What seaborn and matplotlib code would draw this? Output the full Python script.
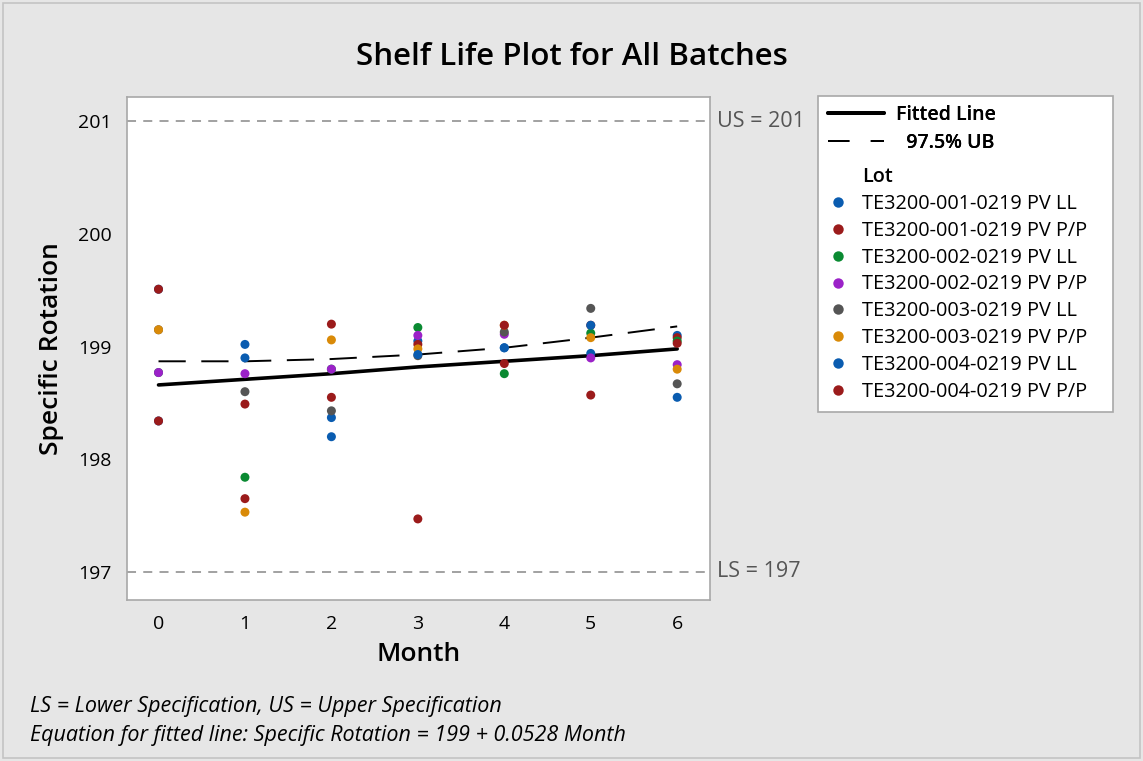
import numpy as np
import pandas as pd
import matplotlib
matplotlib.use("Agg")
import matplotlib.pyplot as plt
import seaborn as sns
from matplotlib.lines import Line2D
from matplotlib.patches import Rectangle

# ---- data ----
months = [0, 1, 2, 3, 4, 5, 6]
lots = ['TE3200-001-0219 PV LL', 'TE3200-001-0219 PV P/P',
        'TE3200-002-0219 PV LL', 'TE3200-002-0219 PV P/P',
        'TE3200-003-0219 PV LL', 'TE3200-003-0219 PV P/P',
        'TE3200-004-0219 PV LL', 'TE3200-004-0219 PV P/P']
lot_001_ll = [199.51, 199.02, 198.37, 199.05, 198.99, 198.94, 199.10]
lot_001_pp = [199.51, 198.49, 198.55, 199.02, 198.85, 199.19, 199.08]
lot_002_ll = [198.77, 197.84, 198.80, 199.17, 198.76, 199.12, 199.05]
lot_002_pp = [198.77, 198.76, 198.80, 199.10, 199.11, 198.90, 198.84]
lot_003_ll = [199.15, 198.60, 198.43, 198.92, 199.13, 199.34, 198.67]
lot_003_pp = [199.15, 197.53, 199.06, 198.98, 199.19, 199.08, 198.80]
lot_004_ll = [198.34, 198.90, 198.20, 198.93, 198.99, 199.19, 198.55]
lot_004_pp = [198.34, 197.65, 199.20, 197.47, 199.19, 198.57, 199.03]
fitted_line = [198.66, 198.71, 198.76, 198.82, 198.87, 198.92, 198.98]
upper_bound = [198.87, 198.87, 198.89, 198.93, 198.99, 199.08, 199.18]
lower_spec = 197
upper_spec = 201
lot_colors = ['#0a5cb0', '#9b1b1b', '#0a8a32', '#9b22c8',
              '#555555', '#d98a08', '#0a5cb0', '#9b1b1b']

valores = [lot_001_ll, lot_001_pp, lot_002_ll, lot_002_pp,
           lot_003_ll, lot_003_pp, lot_004_ll, lot_004_pp]
df = pd.DataFrame({
    'Month': months * len(lots),
    'Specific Rotation': sum(valores, []),
    'Lot': [lot for lot in lots for _ in months],
})
df_fit = pd.DataFrame({'Month': months, 'Fitted': fitted_line, 'UB': upper_bound})

sns.set_style('white')
plt.rcParams['font.family'] = ['Open Sans', 'DejaVu Sans']
plt.rcParams['text.color'] = 'black'
plt.rcParams['axes.labelcolor'] = 'black'

fig = plt.figure(figsize=(11.43, 7.61), dpi=100, facecolor='#e6e6e6')
fig.patches.append(Rectangle((0.003, 0.004), 0.994, 0.992, transform=fig.transFigure,
                             fill=False, edgecolor='#c4c4c4', lw=1.2))
ax = fig.add_axes([0.1107, 0.2116, 0.5105, 0.6613])
ax.set_facecolor('white')

# limites de especificacao
for val in [lower_spec, upper_spec]:
    ax.axhline(val, color='#9a9a9a', ls=(0, (5, 4)), lw=1.3, zorder=1)

sns.lineplot(data=df_fit, x='Month', y='Fitted', color='black', lw=2.6, ax=ax, zorder=3)
sns.lineplot(data=df_fit, x='Month', y='UB', color='black', lw=1.4, ax=ax,
             dashes=False, zorder=3).lines[-1].set_dashes([14, 8])
sns.scatterplot(data=df, x='Month', y='Specific Rotation', hue='Lot', hue_order=lots,
                palette=lot_colors, s=42, edgecolor='none', legend=False, ax=ax, zorder=4)

ax.set_xlim(-0.37, 6.38)
ax.set_ylim(196.75, 201.22)
ax.set_xticks(months)
ax.set_yticks([197, 198, 199, 200, 201])
ax.tick_params(axis='both', length=6, color='#a0a0a0', labelsize=14, pad=5, labelcolor='black')
for sp in ax.spines.values():
    sp.set_color('#a8a8a8')
    sp.set_linewidth(1.2)
ax.set_xlabel('Month', fontsize=19, fontweight='semibold', labelpad=6)
ax.set_ylabel('Specific Rotation', fontsize=19, fontweight='semibold', labelpad=10)

ax.text(1.012, upper_spec, 'US = 201', transform=ax.get_yaxis_transform(),
        va='center', ha='left', fontsize=15.5, color='#555555')
ax.text(1.012, lower_spec, 'LS = 197', transform=ax.get_yaxis_transform(),
        va='center', ha='left', fontsize=15.5, color='#555555')

fig.text(0.5, 0.925, 'Shelf Life Plot for All Batches', ha='center', va='center',
         fontsize=22.5, fontweight='semibold')
fig.text(0.026, 0.071, 'LS = Lower Specification, US = Upper Specification',
         fontsize=15.5, style='italic', va='center')
fig.text(0.026, 0.034, 'Equation for fitted line: Specific Rotation = 199 + 0.0528 Month',
         fontsize=15.5, style='italic', va='center')

# legenda: moldura + duas legendas (linhas e lotes)
fig.patches.append(Rectangle((0.7157, 0.4586), 0.2581, 0.4152, transform=fig.transFigure,
                             facecolor='white', edgecolor='#a8a8a8', lw=1.2, zorder=0))
h_linhas = [Line2D([], [], color='black', lw=2.8),
            Line2D([], [], color='black', lw=1.4, dashes=[11, 11])]
leg1 = fig.legend(h_linhas, ['Fitted Line', '  97.5% UB'], loc='upper left',
                  bbox_to_anchor=(0.7245, 0.862), frameon=False, fontsize=14,
                  handlelength=2.9, handletextpad=0.6, labelspacing=0.4,
                  borderpad=0, borderaxespad=0)
for t in leg1.get_texts():
    t.set_fontweight('semibold')

h_lotes = [Line2D([], [], color='none')]
for cor in lot_colors:
    h_lotes.append(Line2D([], [], ls='none', marker='o', markersize=7.5,
                          markerfacecolor=cor, markeredgecolor='none'))
leg2 = fig.legend(h_lotes, ['Lot'] + lots, loc='upper left',
                  bbox_to_anchor=(0.7245, 0.781), frameon=False, fontsize=14.3,
                  handlelength=1.0, handletextpad=0.7, labelspacing=0.35,
                  borderpad=0, borderaxespad=0)
leg2.get_texts()[0].set_fontweight('semibold')
fig.add_artist(leg1)

plt.savefig('out.png', dpi=100, facecolor=fig.get_facecolor())
